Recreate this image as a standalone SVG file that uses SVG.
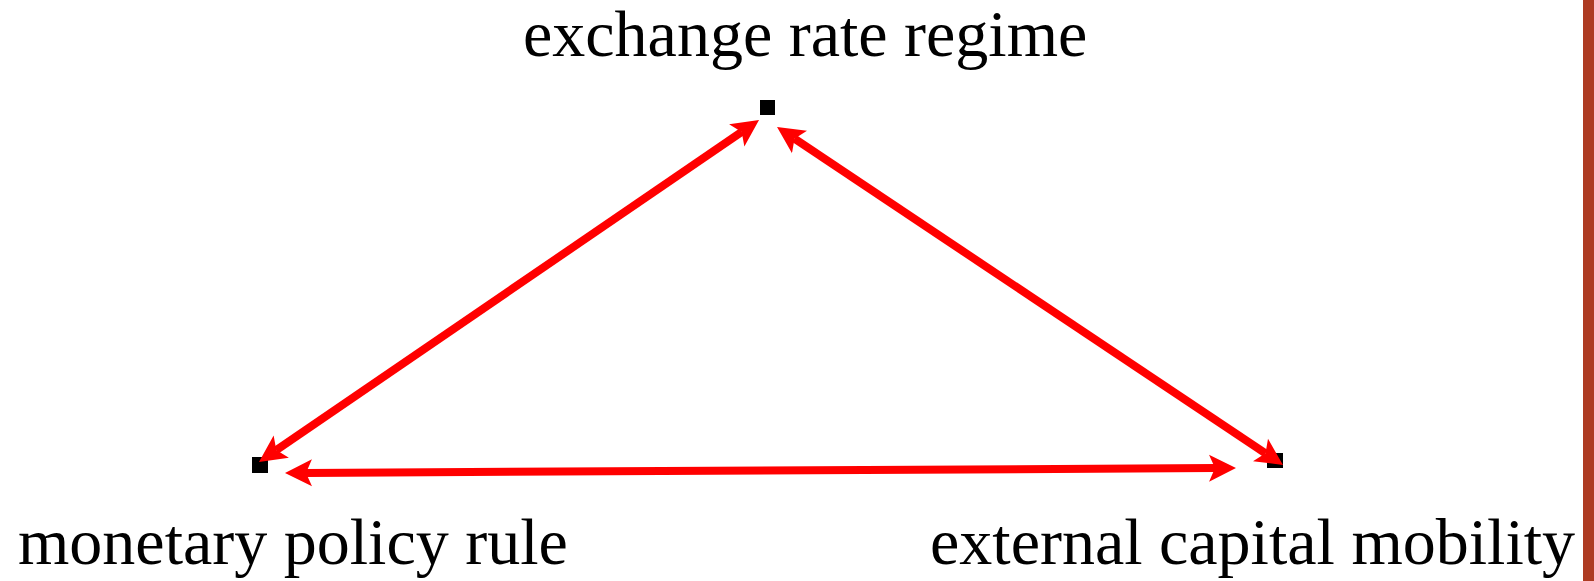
<svg xmlns="http://www.w3.org/2000/svg" width="1594" height="581" viewBox="0 0 1594 581">
<style>
.lbl{font-family:"Liberation Serif","Times New Roman",serif;font-size:66px;fill:#000}
.pt{fill:#000}
.conn line{stroke:#ff0000;stroke-width:8;fill:none;marker-start:url(#ah);marker-end:url(#ah)}
</style>
<defs>
<marker id="ah" markerUnits="userSpaceOnUse" viewBox="0 -15 30 30" markerWidth="30" markerHeight="30" refX="6" refY="0" orient="auto-start-reverse">
<path d="M0,-13.5 L27,0 L0,13.5 L6,0 Z" fill="#ff0000"/>
</marker>
</defs>
<rect x="0" y="0" width="1594" height="581" fill="#fff"/>
<rect x="1583" y="0" width="11" height="581" fill="#ae3b22"/>
<g id="node-exchange">
<rect class="pt" x="760" y="100" width="15" height="15"/>
<text class="lbl" x="523" y="56">exchange rate regime</text>
</g>
<g id="node-monetary">
<rect class="pt" x="252" y="457" width="16" height="16"/>
<text class="lbl" x="18" y="564">monetary policy rule</text>
</g>
<g id="node-capital">
<rect class="pt" x="1267" y="453" width="16" height="15"/>
<text class="lbl" x="930" y="564">external capital mobility</text>
</g>
<g id="connectors" class="conn">
<line x1="276.3" y1="450.1" x2="741.7" y2="131.9"/>
<line x1="794.5" y1="138.7" x2="1265.5" y2="453.3"/>
<line x1="306" y1="472.9" x2="1215" y2="468.1"/>
</g>
</svg>
